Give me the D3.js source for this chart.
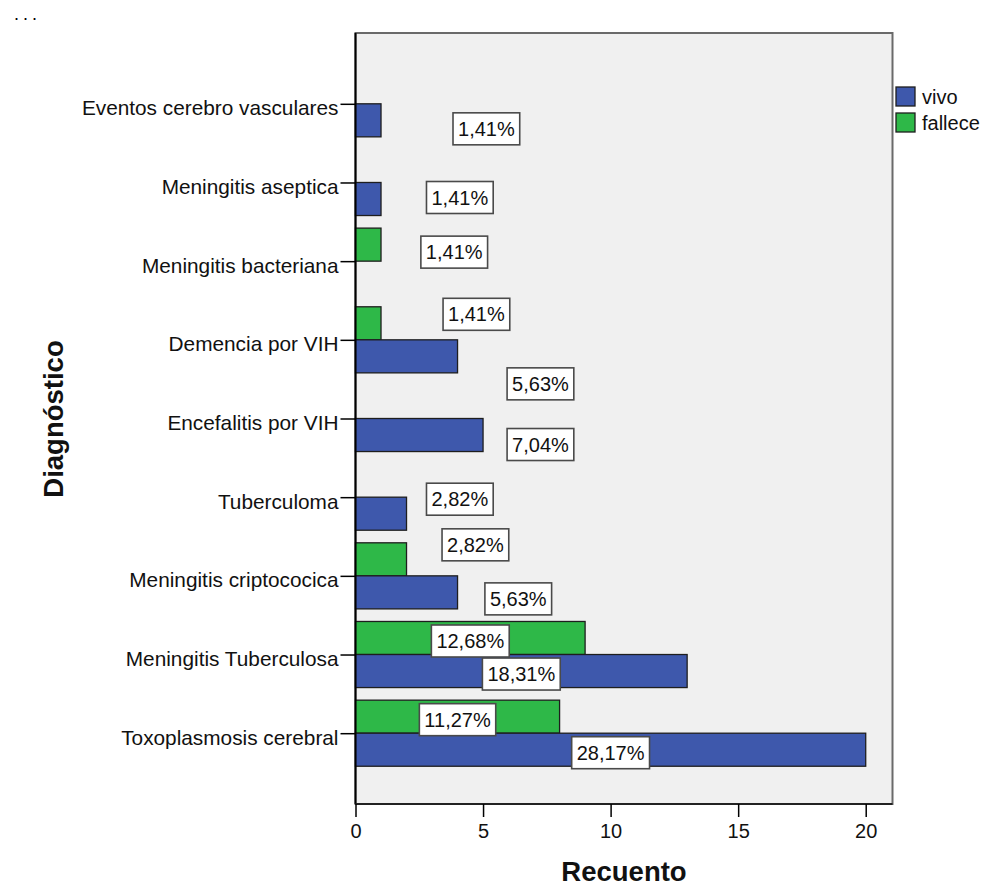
<!DOCTYPE html>
<html>
<head>
<meta charset="utf-8">
<script src="https://cdn.jsdelivr.net/npm/d3@7"></script>
<style>
  html, body { margin: 0; padding: 0; background: #fff; }
  svg { display: block; font-family: Arial, "Liberation Sans", sans-serif; }
</style>
</head>
<body>
<svg id="chart" width="982" height="888"></svg>
<script>
// Diagnosis categories, top to bottom
const categories = [
  "Eventos cerebro vasculares",
  "Meningitis aseptica",
  "Meningitis bacteriana",
  "Demencia por VIH",
  "Encefalitis por VIH",
  "Tuberculoma",
  "Meningitis criptococica",
  "Meningitis Tuberculosa",
  "Toxoplasmosis cerebral"
];
// Counts per outcome (null = no cases)
const vivo    = [1, 1, null, 4, 5, 2, 4, 13, 20];
const fallece = [null, null, 1, 1, null, null, 2, 9, 8];
const seriesNames = ["vivo", "fallece"];
const xTicks = [0, 5, 10, 15, 20];
const total = d3.sum(vivo) + d3.sum(fallece);

// Where the percentage boxes sit when they would collide with short bars:
// x in count units, dy in px from the bar centre.
const labelNudge = {
  "vivo|Eventos cerebro vasculares":   { x: 5.13, dy: 8.5 },
  "vivo|Meningitis aseptica":          { x: 4.09, dy: -1.5 },
  "fallece|Meningitis bacteriana":     { x: 3.87, dy: 7.5 },
  "fallece|Demencia por VIH":          { x: 4.74, dy: -9 },
  "vivo|Demencia por VIH":             { x: 7.25, dy: 27.5 },
  "vivo|Encefalitis por VIH":          { x: 7.25, dy: 9.5 },
  "vivo|Tuberculoma":                  { x: 4.09, dy: -14.5 },
  "fallece|Meningitis criptococica":   { x: 4.70, dy: -14.5 },
  "vivo|Meningitis criptococica":      { x: 6.38, dy: 6.5 }
};

const colors = { vivo: "#3E58AC", fallece: "#2EB848" };

const svg = d3.select("#chart");
const plot = { left: 355.5, right: 892.5, top: 33, bottom: 804 };

const x = d3.scaleLinear().domain([0, 21.05]).range([plot.left, plot.right]);
const y = d3.scalePoint().domain(categories).range([plot.top, plot.bottom]).padding(0.9);
const barH = y.step() * 0.42;

// Plot background
svg.append("rect")
  .attr("x", plot.left).attr("y", plot.top)
  .attr("width", plot.right - plot.left).attr("height", plot.bottom - plot.top)
  .attr("fill", "#F0F0F0").attr("stroke", "#6a6a6a").attr("stroke-width", 2);

// Bars: fallece above the category tick, vivo below
const bars = [];
categories.forEach((c, i) => {
  if (fallece[i] != null) bars.push({ cat: c, s: "fallece", v: fallece[i], y0: y(c) - barH });
  if (vivo[i] != null) bars.push({ cat: c, s: "vivo", v: vivo[i], y0: y(c) });
});

svg.append("g").selectAll("rect").data(bars).join("rect")
  .attr("x", x(0))
  .attr("y", d => d.y0)
  .attr("width", d => x(d.v) - x(0))
  .attr("height", barH)
  .attr("fill", d => colors[d.s])
  .attr("stroke", "#1e1e1e").attr("stroke-width", 1.3);

// Axes
const yAxis = svg.append("g")
  .attr("transform", `translate(${plot.left},0)`)
  .call(d3.axisLeft(y).tickSize(15).tickPadding(2));
yAxis.select(".domain").attr("stroke", "#000").attr("stroke-width", 2)
  .attr("d", `M0,${plot.top}V${plot.bottom}`);
yAxis.selectAll(".tick line").attr("stroke", "#000").attr("stroke-width", 1.5);
yAxis.selectAll(".tick text")
  .attr("font-size", 20.8).attr("fill", "#111").attr("dy", 11)
  .attr("font-family", "Arial, 'Liberation Sans', sans-serif");

const xAxis = svg.append("g")
  .attr("transform", `translate(0,${plot.bottom})`)
  .call(d3.axisBottom(x).tickValues(xTicks).tickSize(13).tickPadding(7));
xAxis.select(".domain").attr("stroke", "#222").attr("stroke-width", 2)
  .attr("d", `M${plot.left},0H${plot.right}`);
xAxis.selectAll(".tick line").attr("stroke", "#000").attr("stroke-width", 1.5);
xAxis.selectAll(".tick text")
  .attr("font-size", 20).attr("fill", "#111")
  .attr("font-family", "Arial, 'Liberation Sans', sans-serif");

// Percentage labels
const fmt = v => (v / total * 100).toFixed(2).replace(".", ",") + "%";
const labels = svg.append("g").selectAll("g").data(bars).join("g")
  .attr("transform", d => {
    const n = labelNudge[d.s + "|" + d.cat];
    const lx = n ? x(n.x) : x(d.v / 2);
    const ly = d.y0 + barH / 2 + (n ? n.dy : 3);
    return `translate(${lx},${ly})`;
  });
labels.append("rect").attr("class", "box");
labels.append("text")
  .attr("text-anchor", "middle").attr("dy", 7)
  .attr("font-size", 20).attr("fill", "#111")
  .text(d => fmt(d.v));
labels.each(function () {
  const g = d3.select(this);
  const w = g.select("text").node().getComputedTextLength() + 10;
  g.select("rect.box")
    .attr("x", -w / 2).attr("y", -16).attr("width", w).attr("height", 32)
    .attr("fill", "#fff").attr("stroke", "#4a4a4a").attr("stroke-width", 1.6);
});

// Axis titles
svg.append("text")
  .attr("x", 624).attr("y", 881)
  .attr("text-anchor", "middle").attr("font-size", 27.5).attr("font-weight", "bold")
  .attr("fill", "#111").text("Recuento");
svg.append("text")
  .attr("transform", "translate(63,419) rotate(-90)")
  .attr("text-anchor", "middle").attr("font-size", 27.5).attr("font-weight", "bold")
  .attr("fill", "#111").text("Diagnóstico");

// Legend
const legend = svg.append("g").selectAll("g").data(seriesNames).join("g")
  .attr("transform", (d, i) => `translate(896,${87 + i * 26})`);
legend.append("rect")
  .attr("width", 19).attr("height", 19)
  .attr("fill", d => colors[d]).attr("stroke", "#1e1e1e").attr("stroke-width", 1.3);
legend.append("text")
  .attr("x", 26).attr("y", 17)
  .attr("font-size", 20).attr("fill", "#111").text(d => d);

// Corner marker
svg.append("text")
  .attr("x", 14).attr("y", 20)
  .attr("font-size", 18).attr("letter-spacing", 4).attr("fill", "#000").text("...");
</script>
</body>
</html>
